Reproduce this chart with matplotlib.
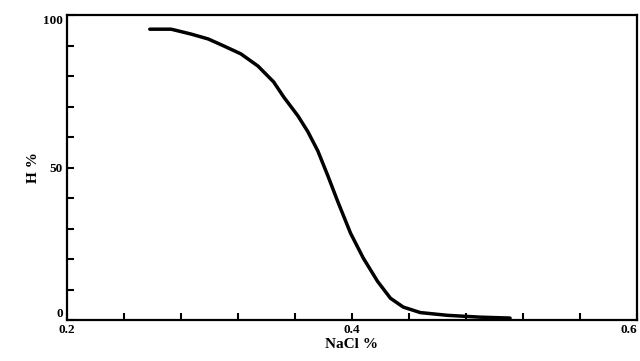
"""
Hemolysis curve: H % against NaCl %

"""

import numpy as np
import matplotlib.pyplot as plt

############################# Data #############################

# points
nacl = [0.258, 0.273, 0.287, 0.299, 0.310, 0.322, 0.334, 0.345, 0.352,
        0.362, 0.369, 0.376, 0.383, 0.390, 0.399, 0.408, 0.418, 0.427,
        0.436, 0.448, 0.467, 0.490, 0.511]
hemolysis = [95.4, 95.4, 93.8, 92.2, 89.9, 87.3, 83.3, 78.1, 73.2,
             67.0, 61.8, 55.5, 47.4, 38.9, 28.5, 20.3, 12.7, 7.2,
             4.3, 2.5, 1.6, 1.0, 0.7]

x_labels = {0.2: "0.2", 0.4: "0.4", 0.6: "0.6"}
y_labels = {0: "0", 50: "50", 100: "100"}

################################################################

plt.rcParams['font.family'] = ['Liberation Serif', 'DejaVu Serif']

fig = plt.figure(figsize=(6.4, 3.61), dpi=100)
ax = fig.add_axes([0.105, 0.113, 0.89, 0.845])

ax.plot(nacl, hemolysis, color="black", linewidth=2.5,
        solid_capstyle="round", solid_joinstyle="round")

ax.set_xlim(0.2, 0.6)
ax.set_ylim(0, 100)

# ticks every 0.04 / 10, only some of them labelled
xt = np.round(np.arange(0.2, 0.6001, 0.04), 2)
yt = np.arange(0, 101, 10)
ax.set_xticks(xt)
ax.set_xticklabels([x_labels.get(round(v, 2), "") for v in xt])
ax.set_yticks(yt)
ax.set_yticklabels([y_labels.get(int(v), "") for v in yt])

ax.tick_params(direction="in", length=5, width=1.5, labelsize=9.5, pad=3)
for lab in ax.get_xticklabels() + ax.get_yticklabels():
    lab.set_fontweight("bold")
# the last x label sits against the right edge
ax.get_xticklabels()[-1].set_horizontalalignment("right")
# y end labels sit inside the frame height, as in the print
ax.get_yticklabels()[0].set_verticalalignment("bottom")
ax.get_yticklabels()[-1].set_verticalalignment("top")

for s in ax.spines.values():
    s.set_linewidth(1.6)

ax.set_xlabel("NaCl %", fontsize=11, fontweight="bold", labelpad=1)
ax.set_ylabel("H %", fontsize=11, fontweight="bold", labelpad=2)

fig.savefig("out.png", dpi=100)
